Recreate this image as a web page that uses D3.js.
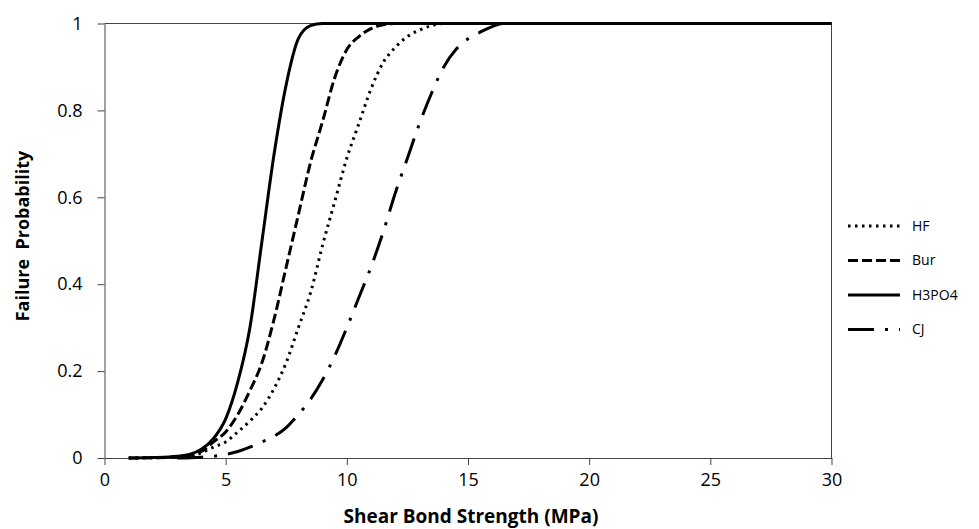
<!DOCTYPE html>
<html>
<head>
<meta charset="utf-8">
<script src="https://cdn.jsdelivr.net/npm/d3@7"></script>
<style>
  body { margin: 0; background: #fff; }
  svg text { font-family: "Open Sans", sans-serif; fill: #000; }
</style>
</head>
<body>
<svg id="chart" width="979" height="529"></svg>
<script>
// values: [shear bond strength (MPa), failure probability]
const hf = [[1,0],[3,0.002],[4,0.012],[4.5,0.025],[5,0.037],[5.5,0.06],[6,0.085],[6.5,0.115],[7,0.16],[7.5,0.22],[8,0.3],[8.5,0.38],[9,0.49],[9.5,0.59],[10,0.69],[10.5,0.77],[11,0.85],[11.5,0.91],[12,0.945],[12.5,0.97],[13,0.985],[13.5,0.995],[14,1],[30,1]];
const bur = [[1,0],[3,0.002],[4,0.015],[4.5,0.037],[5,0.06],[5.5,0.1],[6,0.155],[6.5,0.22],[7,0.32],[7.5,0.44],[8,0.56],[8.5,0.68],[9,0.775],[9.5,0.875],[10,0.94],[10.5,0.97],[11,0.988],[11.5,0.997],[12,1],[30,1]];
const h3po4 = [[1,0],[2,0.001],[3,0.004],[3.5,0.008],[4,0.02],[4.5,0.045],[5,0.09],[5.5,0.175],[6,0.3],[6.5,0.5],[7,0.7],[7.5,0.86],[8,0.965],[8.5,0.995],[9,1],[30,1]];
const cj = [[3,0],[4,0.002],[5,0.008],[5.5,0.015],[6,0.025],[6.5,0.037],[7,0.05],[7.5,0.07],[8,0.1],[8.5,0.135],[9,0.18],[9.5,0.235],[10,0.3],[10.5,0.37],[11,0.44],[11.5,0.52],[12,0.61],[12.5,0.69],[13,0.77],[13.5,0.84],[14,0.9],[14.5,0.94],[15,0.965],[15.5,0.98],[16,0.993],[16.5,1],[30,1]];

const seriesNames = ['HF', 'Bur', 'H3PO4', 'CJ'];
const xTicks = [0, 5, 10, 15, 20, 25, 30];
const yTicks = [0, 0.2, 0.4, 0.6, 0.8, 1];

const series = [
  {name: seriesNames[0], data: hf,    dash: '2.5,4.5'},
  {name: seriesNames[1], data: bur,   dash: '10,4'},
  {name: seriesNames[2], data: h3po4, dash: null},
  {name: seriesNames[3], data: cj,    dash: '26,11,3,11'}
];

const svg = d3.select('#chart');

let x = d3.scaleLinear().domain([0, 30]).range([104.5, 831.5]);
let y = d3.scaleLinear().domain([0, 1]).range([458, 23.5]);

// plot area border (top + right)
svg.append('path')
  .attr('d', `M${x(0)},${y(1)}H${x(30)}V${y(0)}`)
  .attr('fill', 'none')
  .attr('stroke', '#444')
  .attr('stroke-width', 1);

// axes
let xAxis = svg.append('g')
  .attr('transform', `translate(0,${y(0)})`)
  .call(d3.axisBottom(x).tickValues(xTicks).tickSize(7).tickSizeOuter(0).tickPadding(8));

let yAxis = svg.append('g')
  .attr('transform', `translate(${x(0)},0)`)
  .call(d3.axisLeft(y).tickValues(yTicks).tickSize(7).tickSizeOuter(0).tickPadding(15)
    .tickFormat(d => d3.format('')(+d.toFixed(1))));

[xAxis, yAxis].forEach(g => {
  g.select('.domain').attr('stroke', '#444');
  g.selectAll('.tick line').attr('stroke', '#444');
  g.selectAll('.tick text').style('font-size', '18px').attr('fill', '#000');
});

// curves
let line = d3.line()
  .x(d => x(d[0]))
  .y(d => y(d[1]))
  .curve(d3.curveMonotoneX);

series.forEach(s => {
  svg.append('path')
    .datum(s.data)
    .attr('d', line)
    .attr('fill', 'none')
    .attr('stroke', '#000')
    .attr('stroke-width', 3)
    .attr('stroke-dasharray', s.dash);
});

// legend
let legend = svg.append('g');
series.forEach((s, i) => {
  let ly = 226 + i * 34.5;
  legend.append('line')
    .attr('x1', 848).attr('x2', 900)
    .attr('y1', ly).attr('y2', ly)
    .attr('stroke', '#000')
    .attr('stroke-width', 3)
    .attr('stroke-dasharray', s.dash);
  legend.append('text')
    .attr('x', 912).attr('y', ly)
    .attr('dy', '0.35em')
    .style('font-size', '14px')
    .text(s.name);
});

// axis titles
svg.append('text')
  .attr('x', 471).attr('y', 523)
  .attr('text-anchor', 'middle')
  .style('font-size', '19px')
  .style('font-weight', 'bold')
  .text('Shear Bond Strength (MPa)');

svg.append('text')
  .attr('transform', 'translate(29,236) rotate(-90)')
  .attr('text-anchor', 'middle')
  .style('font-size', '18px')
  .style('font-weight', 'bold')
  .style('white-space', 'pre')
  .text('Failure  Probability');
</script>
</body>
</html>
